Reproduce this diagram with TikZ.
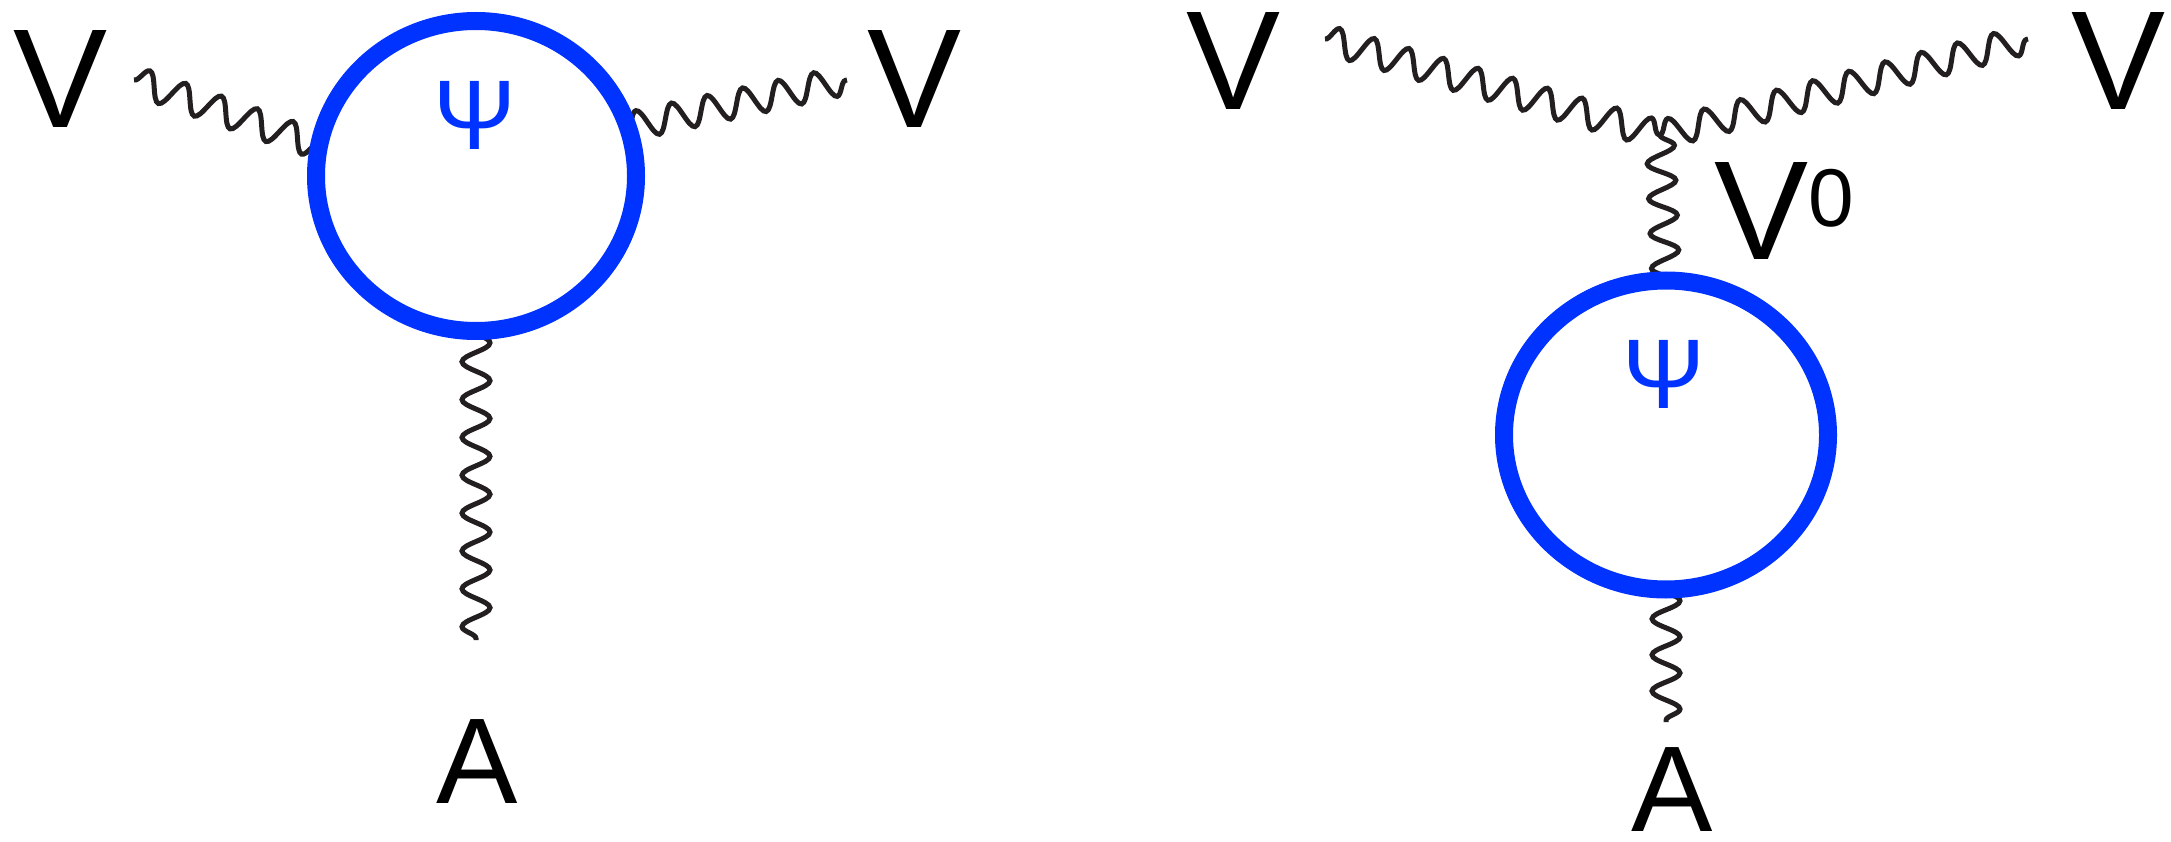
\documentclass[tikz,border=0pt]{standalone}
\usepackage{fontspec}
\setmainfont{Liberation Sans}
\usetikzlibrary{decorations.pathmorphing,shapes.geometric}
\definecolor{wire}{HTML}{231F20}
\definecolor{loopblue}{HTML}{0033FF}
\pgfdeclarelayer{bg}\pgfsetlayers{bg,main}
\begin{document}
\begin{tikzpicture}[x=1pt,y=-1pt,
  wavy/.style={draw=wire, line width=5pt, decorate,
    decoration={snake, amplitude=14pt, segment length=#1}},
  wavy/.default=37pt,
  loopring/.style={ellipse, draw=loopblue, line width=18pt, inner sep=0pt, outer sep=0pt},
  vlbl/.style={inner sep=0pt, font=\fontsize{141}{141}\selectfont},
  albl/.style={inner sep=0pt, font=\fontsize{122}{122}\selectfont},
  psilbl/.style={inner sep=0pt, text=loopblue, font=\fontsize{99}{99}\selectfont}]
\useasboundingbox (0,0) rectangle (2171,842);
% ---------- left diagram ----------
\node[loopring, minimum width=320pt, minimum height=310pt] (loop1) at (476,176) {};
\node[psilbl] (psi1) at (475,115) {Ψ};
\node[vlbl] (v1) at (61,79) {V};
\node[vlbl] (v2) at (915,79) {V};
\node[albl] (a1) at (477,762) {A};
\coordinate (w1a) at (134,80);
\coordinate (w1b) at (847,80);
\coordinate (w1c) at (476,640);
% ---------- right diagram ----------
\node[loopring, minimum width=324pt, minimum height=309pt] (loop2) at (1666,435) {};
\node[psilbl] (psi2) at (1664,374) {Ψ};
\node[vlbl] (v3) at (1234,61) {V};
\node[vlbl] (v4) at (2118,61) {V};
\node[vlbl, anchor=base west] (v0) at (1714,260) {V\raisebox{33pt}{\fontsize{82}{82}\selectfont 0}};
\node[albl] (a2) at (1672,790) {A};
\coordinate (vx) at (1660,135);
\coordinate (w2a) at (1325,39);
\coordinate (w2b) at (2028,39);
\coordinate (w2c) at (1666,722);
\begin{pgfonlayer}{bg}
\draw[wavy=38pt] (w1a) -- (loop1.169);
\draw[wavy=36.35pt] (loop1.18) -- (w1b);
\draw[wavy=37.85pt] (loop1.south) -- (w1c);
\draw[wavy=36.05pt] (w2a) -- (vx);
\draw[wavy=37.4pt] (vx) -- (w2b);
\draw[wavy=34.9pt] (vx) -- (loop2.north);
\draw[wavy=36.1pt] (loop2.south) -- (w2c);
\end{pgfonlayer}
\end{tikzpicture}
\end{document}
